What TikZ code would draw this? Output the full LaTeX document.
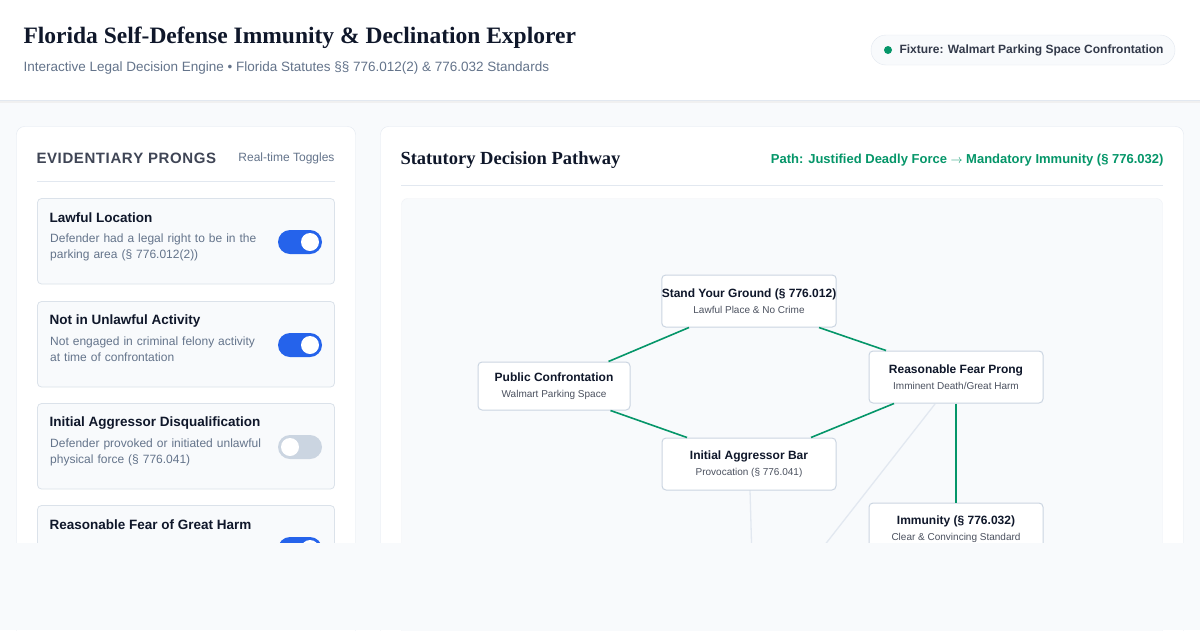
\documentclass[tikz,border=0pt]{standalone}
\usepackage{fontspec}
\setmainfont{Liberation Sans}
\newfontfamily\serifF{Liberation Serif}
\begin{document}
\begin{tikzpicture}[x=1pt,y=-1pt,
  green/.style={draw=grn,line width=1.6pt},
  gnode/.style={draw=bdr,line width=1pt,fill=white,rounded corners=4pt,minimum width=174pt,minimum height=52pt,align=center,inner sep=0pt},
  card/.style={draw=bdr!70,fill=cardbg,rounded corners=4pt,line width=0.8pt},
  ttl/.style={anchor=west,font=\bfseries\fontsize{13.5}{16}\selectfont,text=dark},
  desc/.style={anchor=north west,font=\fontsize{12}{16}\selectfont,text=slate,align=left,text width=215pt,inner sep=0pt},
]
\definecolor{grn}{HTML}{059669}
\definecolor{bdr}{HTML}{CBD5E1}
\definecolor{bg}{HTML}{F8FAFC}
\definecolor{cardbg}{HTML}{F8FAFC}
\definecolor{dark}{HTML}{0F172A}
\definecolor{slate}{HTML}{64748B}
\definecolor{blu}{HTML}{2563EB}
\definecolor{lin}{HTML}{E2E8F0}
\newcommand{\nt}[2]{\bfseries\fontsize{12}{14}\selectfont\color{dark}#1\\[4pt]\mdseries\fontsize{10}{12}\selectfont\color{dark!75}#2}
\useasboundingbox (0,0) rectangle (1200,630);
\fill[bg] (0,0) rectangle (1200,630);
% header
\fill[black!6] (0,100) rectangle (1200,103);
\fill[white] (0,0) rectangle (1200,100);
\draw[lin] (0,100.5) -- (1200,100.5);
\node[anchor=west,font=\serifF\bfseries\fontsize{23.5}{28}\selectfont,text=dark] (title) at (20,38) {Florida Self-Defense Immunity \& Declination Explorer};
\node[anchor=west,font=\fontsize{13.5}{16}\selectfont,text=slate] (sub) at (20,68) {Interactive Legal Decision Engine • Florida Statutes §§ 776.012(2) \& 776.032 Standards};
\draw[lin,fill=bg,rounded corners=15pt] (871,35) rectangle (1175,65);
\fill[grn] (888,50) circle (4);
\node[anchor=west,font=\bfseries\fontsize{12}{14}\selectfont,text=dark!85] (fix) at (896,50) {Fixture: Walmart Parking Space Confrontation};
% left panel
\draw[lin,fill=white,rounded corners=8pt] (16.5,126.5) rectangle (355.5,640);
\node[anchor=west,font=\bfseries\fontsize{15}{18}\selectfont,text=dark!80] (ep) at (33,158) {E\kern0.6pt V\kern0.6pt I\kern0.6pt D\kern0.6pt E\kern0.6pt N\kern0.6pt T\kern0.6pt I\kern0.6pt A\kern0.6pt R\kern0.6pt Y\kern0.6pt\ P\kern0.6pt R\kern0.6pt O\kern0.6pt N\kern0.6pt G\kern0.6pt S};
\node[anchor=east,font=\fontsize{12}{14}\selectfont,text=slate] (rt) at (338,158) {Real-time Toggles};
\draw[lin] (37,181.5) -- (335,181.5);
\foreach \y/\t/\d/\on in {198/Lawful Location/{Defender had a legal right to be in the parking area (§ 776.012(2))}/1,
  301/Not in Unlawful Activity/{Not engaged in criminal felony activity at time of confrontation}/1,
  403/Initial Aggressor Disqualification/{Defender provoked or initiated unlawful physical force (§ 776.041)}/0,
  505/Reasonable Fear of Great Harm/{}/1}{
  \draw[card] (37.5,\y+0.5) rectangle (334.5,\y+86);
  \node[ttl] at (46,\y+20) {\t};
  \node[desc] at (50,\y+36) {\d};
  \ifnum\on=1
    \fill[blu,rounded corners=12pt] (278,\y+32) rectangle (322,\y+56);
    \fill[white] (310,\y+44) circle (9);
  \else
    \fill[bdr,rounded corners=12pt] (278,\y+32) rectangle (322,\y+56);
    \fill[white] (290,\y+44) circle (9);
  \fi
}
% right panel
\draw[lin,fill=white,rounded corners=8pt] (380.5,126.5) rectangle (1183.5,640);
\node[anchor=west,font=\serifF\bfseries\fontsize{18.5}{22}\selectfont,text=dark] (sdp) at (397,160) {Statutory Decision Pathway};
\node[anchor=east,font=\bfseries\fontsize{13}{15}\selectfont,text=grn] (path) at (1167,160) {Path: Justified Deadly Force $\rightarrow$ Mandatory Immunity (§ 776.032)};
\draw[lin] (401,185.5) -- (1163,185.5);
\draw[lin!60,fill=bg,rounded corners=6pt] (401.5,198.5) rectangle (1162.5,640);
% graph edges
\coordinate (e1) at (752,560);
\coordinate (e2) at (813,560);
\coordinate (ia-b) at (750,490);
\coordinate (rf-b) at (935,404);
\draw[lin,line width=1.3pt] (ia-b) -- (e1);
\draw[lin,line width=1.3pt] (rf-b) -- (e2);
\node[gnode] (syg) at (749,301) {\nt{Stand Your Ground (§ 776.012)}{Lawful Place \& No Crime}};
\node[gnode,minimum width=152pt,minimum height=48pt] (pub) at (554,386) {\nt{Public Confrontation}{Walmart Parking Space}};
\node[gnode] (rf) at (956,377) {\nt{Reasonable Fear Prong}{Imminent Death/Great Harm}};
\node[gnode] (ia) at (749,464) {\nt{Initial Aggressor Bar}{Provocation (§ 776.041)}};
\node[gnode] (im) at (956,529) {\nt{Immunity (§ 776.032)}{Clear \& Convincing Standard}};
\draw[green] (pub.north east) ++(-22,0) -- ([xshift=-60]syg.south);
\draw[green] ([xshift=70]syg.south) -- ([xshift=-70]rf.north);
\draw[green] (pub.south east) ++(-20,0) -- ([xshift=-62]ia.north);
\draw[green] ([xshift=62]ia.north) -- ([xshift=-62]rf.south);
\draw[green] (rf.south) -- (im.north);
% bottom cut
\fill[bg] (0,543) rectangle (1200,630);
\end{tikzpicture}
\end{document}
